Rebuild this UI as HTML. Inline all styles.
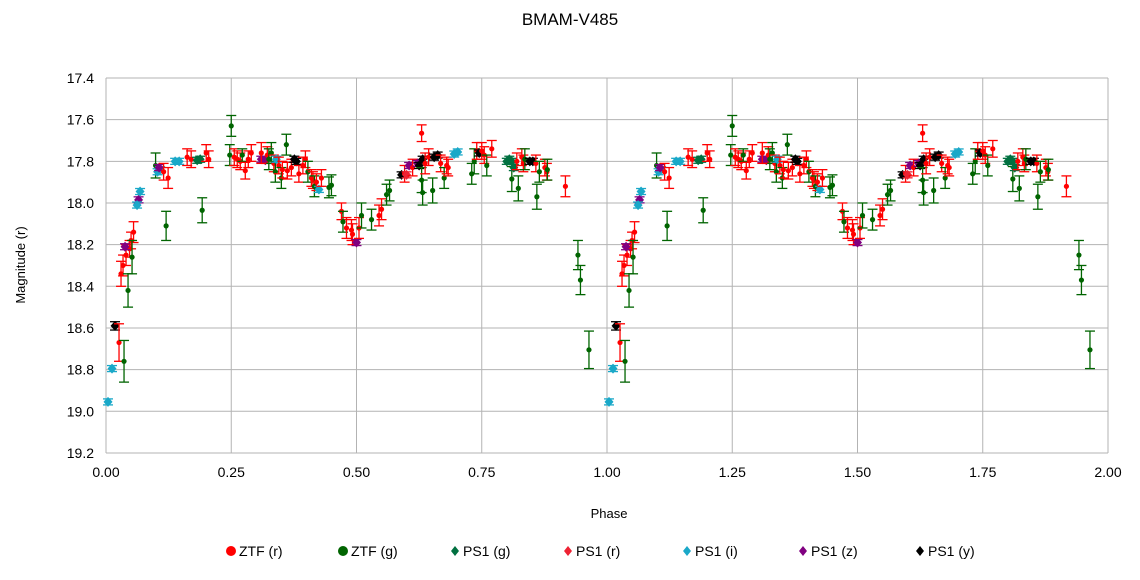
<!DOCTYPE html>
<html><head><meta charset="utf-8"><style>
html,body{margin:0;padding:0;background:#fff;width:1140px;height:580px;overflow:hidden}
svg{display:block;font-family:"Liberation Sans",Arial,sans-serif}
</style></head><body>
<svg id="s" width="1140" height="580" xmlns="http://www.w3.org/2000/svg">
<rect width="1140" height="580" fill="#fff"/>
<text x="570" y="25" font-size="17" text-anchor="middle" fill="#000">BMAM-V485</text>
<g id="grid"></g>
<g id="data"></g>
<text x="609" y="518" font-size="13" text-anchor="middle">Phase</text>
<text transform="translate(25,265) rotate(-90)" font-size="13" text-anchor="middle">Magnitude (r)</text>
<g font-size="14" id="leg"></g>
</svg>
<script>
var NS="http://www.w3.org/2000/svg";
function el(p,t,a,txt){var e=document.createElementNS(NS,t);for(var k in a)e.setAttribute(k,a[k]);if(txt!=null)e.textContent=txt;p.appendChild(e);return e;}
var X0=106,XS=501,Y0=78,YS=208.3;
function X(p){return X0+p*XS}function Y(m){return Y0+(m-17.4)*YS}
var g=document.getElementById('grid');
for(var i=0;i<=9;i++){var m=17.4+i*0.2,y=Y(m);
el(g,'line',{x1:X0,x2:X(2),y1:y,y2:y,stroke:'#b3b3b3','stroke-width':1});
el(g,'text',{x:94,y:y+5,'font-size':14,'text-anchor':'end'},m.toFixed(1));}
for(var i=0;i<=8;i++){var p=i*0.25,x=X(p);
el(g,'line',{x1:x,x2:x,y1:Y0,y2:Y(19.2),stroke:'#b3b3b3','stroke-width':1});
el(g,'text',{x:x,y:477,'font-size':14,'text-anchor':'middle'},p.toFixed(2));}
var C={zr:'#ff0000',zg:'#006400',pg:'#007040',pr:'#ee2233',pi:'#1aa8c8',pz:'#800080',py:'#000000'};
var D=[
[0.004,18.955,0.01,'pi'],[0.012,18.795,0.01,'pi'],[0.018,18.59,0.02,'py'],[0.026,18.67,0.09,'zr'],[0.036,18.76,0.1,'zg'],
[0.03,18.34,0.06,'zr'],[0.034,18.30,0.05,'zr'],[0.04,18.25,0.05,'zr'],[0.044,18.42,0.08,'zg'],[0.047,18.22,0.04,'zr'],[0.05,18.18,0.04,'zr'],[0.055,18.14,0.05,'zr'],[0.052,18.26,0.08,'zg'],
[0.038,18.21,0.01,'pz'],[0.065,17.985,0.01,'pz'],[0.062,18.01,0.01,'pi'],[0.068,17.945,0.01,'pi'],
[0.099,17.82,0.06,'zg'],[0.103,17.85,0.01,'pi'],[0.108,17.84,0.01,'pi'],[0.106,17.83,0.01,'pz'],[0.115,17.85,0.04,'zr'],[0.124,17.88,0.05,'zr'],[0.12,18.11,0.07,'zg'],
[0.138,17.80,0.01,'pi'],[0.146,17.80,0.01,'pi'],[0.162,17.78,0.04,'zr'],[0.17,17.79,0.04,'zr'],[0.182,17.795,0.01,'pg'],[0.188,17.79,0.01,'pg'],[0.2,17.76,0.04,'zr'],[0.205,17.79,0.04,'zr'],[0.192,18.035,0.06,'zg'],
[0.25,17.63,0.05,'zg'],[0.247,17.77,0.05,'zg'],[0.256,17.78,0.04,'zr'],[0.262,17.79,0.04,'zr'],[0.268,17.80,0.04,'zr'],[0.272,17.77,0.03,'zg'],[0.278,17.845,0.04,'zr'],[0.284,17.79,0.04,'zr'],[0.29,17.76,0.04,'zr'],
[0.31,17.79,0.01,'pz'],[0.318,17.795,0.01,'pz'],[0.31,17.76,0.05,'zr'],[0.322,17.77,0.04,'zr'],[0.325,17.79,0.05,'zg'],[0.33,17.76,0.05,'zg'],[0.335,17.81,0.04,'zr'],[0.338,17.85,0.05,'zg'],[0.34,17.79,0.01,'pi'],
[0.345,17.82,0.04,'zr'],[0.35,17.88,0.05,'zg'],[0.352,17.84,0.04,'zr'],[0.36,17.72,0.05,'zg'],[0.362,17.845,0.04,'zr'],[0.37,17.83,0.04,'zr'],[0.376,17.79,0.01,'py'],[0.38,17.80,0.01,'py'],[0.385,17.86,0.04,'zr'],[0.393,17.82,0.04,'zr'],[0.398,17.79,0.04,'zr'],[0.403,17.85,0.05,'zg'],
[0.41,17.88,0.04,'zr'],[0.413,17.89,0.04,'zr'],[0.416,17.92,0.05,'zg'],[0.42,17.90,0.04,'zr'],[0.425,17.935,0.01,'pi'],[0.43,17.88,0.04,'zr'],[0.445,17.925,0.05,'zg'],[0.45,17.915,0.05,'zg'],
[0.47,18.04,0.04,'zr'],[0.473,18.09,0.05,'zg'],[0.48,18.12,0.05,'zr'],[0.49,18.13,0.05,'zr'],[0.492,18.15,0.05,'zr'],[0.5,18.19,0.01,'pz'],[0.505,18.12,0.05,'zr'],[0.51,18.06,0.06,'zg'],[0.53,18.08,0.05,'zg'],[0.545,18.06,0.05,'zr'],[0.55,18.03,0.05,'zr'],[0.56,17.96,0.05,'zg'],[0.566,17.94,0.05,'zg'],
[0.59,17.865,0.01,'py'],[0.596,17.86,0.04,'zr'],[0.6,17.865,0.01,'pr'],[0.605,17.82,0.01,'pz'],[0.612,17.83,0.04,'zr'],[0.622,17.81,0.01,'pz'],[0.625,17.82,0.01,'py'],[0.63,17.665,0.04,'zr'],[0.632,17.79,0.01,'py'],[0.63,17.89,0.06,'zg'],[0.632,17.95,0.06,'zg'],[0.637,17.81,0.05,'zr'],[0.644,17.78,0.04,'zr'],[0.652,17.94,0.06,'zg'],[0.655,17.78,0.01,'py'],[0.662,17.77,0.01,'py'],[0.668,17.81,0.04,'zr'],[0.675,17.88,0.05,'zg'],[0.68,17.82,0.04,'zr'],[0.683,17.83,0.04,'zr'],
[0.695,17.765,0.01,'pi'],[0.702,17.755,0.01,'pi'],[0.73,17.86,0.05,'zg'],[0.735,17.80,0.06,'zg'],[0.74,17.75,0.04,'zr'],[0.745,17.76,0.01,'py'],[0.75,17.75,0.04,'zr'],[0.755,17.77,0.04,'zr'],[0.76,17.82,0.05,'zg'],[0.77,17.74,0.04,'zr'],
[0.8,17.80,0.01,'pg'],[0.805,17.79,0.01,'pg'],[0.81,17.80,0.01,'pg'],[0.81,17.885,0.06,'zg'],[0.814,17.83,0.01,'pg'],[0.82,17.80,0.04,'zr'],[0.823,17.93,0.06,'zg'],[0.83,17.78,0.04,'zr'],[0.833,17.81,0.04,'zr'],[0.836,17.79,0.05,'zg'],
[0.846,17.80,0.01,'py'],[0.852,17.80,0.01,'py'],[0.858,17.81,0.04,'zr'],[0.86,17.97,0.06,'zg'],[0.865,17.85,0.05,'zg'],[0.876,17.83,0.04,'zr'],[0.88,17.85,0.04,'zr'],[0.881,17.84,0.05,'zg'],[0.917,17.92,0.05,'zr'],
[0.942,18.25,0.07,'zg'],[0.947,18.37,0.07,'zg'],[0.964,18.705,0.09,'zg']];
var d=document.getElementById('data');
function marker(p,x,y,s){var c=C[s];
if(s=='zr'||s=='zg'){el(p,'circle',{cx:x,cy:y,r:2.6,fill:c});}
else el(p,'path',{d:'M'+x+','+(y-5)+'L'+(x+4.5)+','+y+'L'+x+','+(y+5)+'L'+(x-4.5)+','+y+'Z',fill:c});}
for(var k=0;k<2;k++)D.forEach(function(a){var x=X(a[0]+k),y=Y(a[1]),e=a[2]*YS,c=C[a[3]];
if(e<3)e=3;
el(d,'line',{x1:x,x2:x,y1:y-e,y2:y+e,stroke:c,'stroke-width':1.3});
el(d,'line',{x1:x-5,x2:x+5,y1:y-e,y2:y-e,stroke:c,'stroke-width':1.3});
el(d,'line',{x1:x-5,x2:x+5,y1:y+e,y2:y+e,stroke:c,'stroke-width':1.3});
marker(d,x,y,a[3]);});
var L=document.getElementById('leg');
var items=[['zr','ZTF (r)',231],['zg','ZTF (g)',343],['pg','PS1 (g)',455],['pr','PS1 (r)',568],['pi','PS1 (i)',687],['pz','PS1 (z)',803],['py','PS1 (y)',920]];
items.forEach(function(it){var x=it[2],y=551;
if(it[0]=='zr'||it[0]=='zg')el(L,'circle',{cx:x,cy:y,r:5,fill:C[it[0]]});
else el(L,'path',{d:'M'+x+','+(y-5)+'L'+(x+4)+','+y+'L'+x+','+(y+5)+'L'+(x-4)+','+y+'Z',fill:C[it[0]]});
el(L,'text',{x:x+8,y:y+5},it[1]);});
</script>
</body></html>
